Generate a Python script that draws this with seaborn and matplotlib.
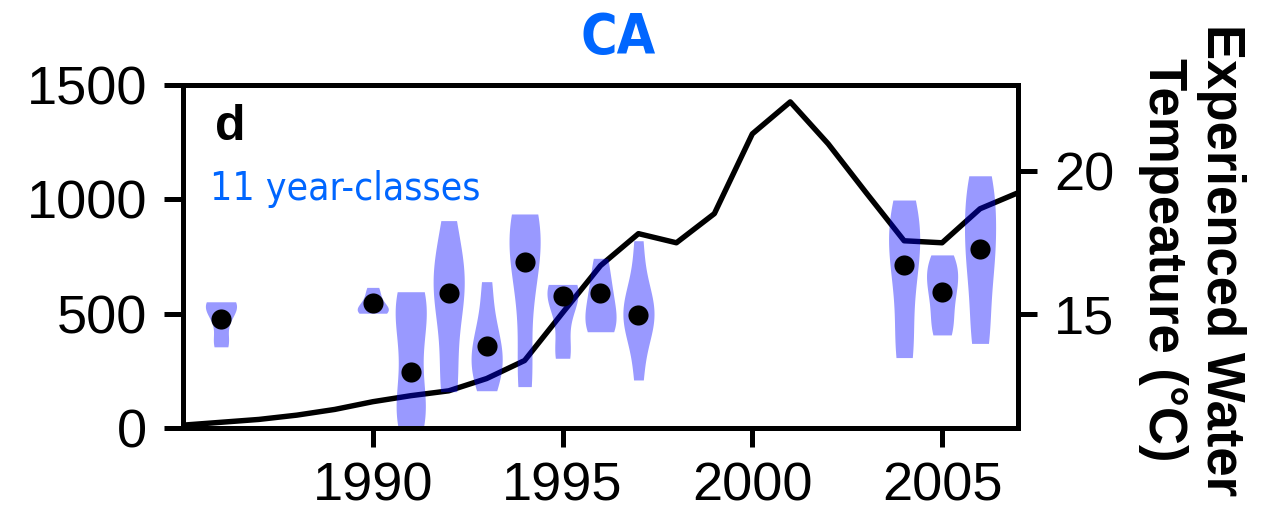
import numpy as np
import pandas as pd
import matplotlib
matplotlib.use("Agg")
import matplotlib.pyplot as plt
import seaborn as sns

sns.set_style("white")
plt.rcParams["font.family"] = ["Liberation Sans", "DejaVu Sans"]
plt.rcParams["text.color"] = "black"
plt.rcParams["xtick.color"] = "black"
plt.rcParams["ytick.color"] = "black"

# Experienced water temperature (right axis), one value per year
temp_years = list(range(1985, 2008))
temp_values = [11.10, 11.20, 11.30, 11.45, 11.65, 11.92, 12.13, 12.30, 12.73, 13.36,
               15.03, 16.68, 17.80, 17.48, 18.50, 21.29, 22.41, 20.94, 19.23, 17.55,
               17.48, 18.67, 19.23]

# Per-year-class observations (left axis)
yc_1986 = [355, 385, 470, 520, 540, 548, 552]
yc_1990 = [502, 508, 520, 540, 575, 615]
yc_1991 = [0, 25, 70, 140, 260, 380, 470, 540, 580, 596]
yc_1992 = [159, 200, 430, 560, 620, 680, 740, 907]
yc_1993 = [163, 230, 285, 330, 385, 480, 640]
yc_1994 = [181, 260, 540, 700, 780, 850, 900, 936]
yc_1995 = [305, 345, 490, 565, 600, 620, 628]
yc_1996 = [421, 440, 500, 565, 640, 742]
yc_1997 = [210, 410, 470, 500, 530, 620, 819]
yc_2004 = [308, 360, 570, 700, 780, 850, 930, 997]
yc_2005 = [407, 440, 520, 590, 630, 680, 720, 757]
yc_2006 = [370, 420, 610, 720, 790, 860, 980, 1050, 1103]

class_years = [1986, 1990, 1991, 1992, 1993, 1994, 1995, 1996, 1997, 2004, 2005, 2006]
class_obs = [yc_1986, yc_1990, yc_1991, yc_1992, yc_1993, yc_1994, yc_1995,
             yc_1996, yc_1997, yc_2004, yc_2005, yc_2006]
class_centers = [475, 548, 246, 592, 360, 725, 577, 592, 494, 713, 595, 781]

df = pd.DataFrame({
    "year": np.repeat(class_years, [len(o) for o in class_obs]),
    "value": np.concatenate(class_obs),
})

fig = plt.figure(figsize=(12.70, 5.19), dpi=100)
ax = fig.add_axes([183 / 1270, 1 - 428 / 519, (1018 - 183) / 1270, (428 - 85) / 519])
ax2 = ax.twinx()

# temperature line on the twin axis, drawn underneath the violins
sns.lineplot(x=temp_years, y=temp_values, ax=ax2, color="black", lw=3.9)
ax2.set_ylim(11, 23)
ax2.set_yticks([15, 20])
ax2.set_ylabel("")

sns.violinplot(data=df, x="year", y="value", native_scale=True, cut=0,
               inner=None, color="blue", saturation=1, linewidth=0,
               width=0.82, bw_adjust=0.9, density_norm="width", ax=ax)
for c in ax.collections:
    c.set_alpha(0.4)
ax.scatter(class_years, class_centers, s=210, color="black", zorder=5, linewidths=0)

ax.set_zorder(ax2.get_zorder() + 1)
ax.patch.set_visible(False)

ax.set_xlim(1985, 2007)
ax.set_ylim(0, 1500)
ax.set_xticks([1990, 1995, 2000, 2005])
ax.set_yticks([0, 500, 1000, 1500])
ax.set_xlabel("")
ax.set_ylabel("")

for a in (ax, ax2):
    for s in a.spines.values():
        s.set_linewidth(3.6)
        s.set_color("black")
ax.tick_params(axis="both", labelsize=39, length=14, width=3.6, color="black",
               labelcolor="black", left=True, bottom=True, direction="out")
ax.tick_params(axis="y", pad=12)
ax.tick_params(axis="x", pad=10)
ax2.tick_params(axis="y", labelsize=39, length=14, width=3.6, right=True, pad=12,
                color="black", labelcolor="black", direction="out")

# panel letter and annotation
ax.text(215 / 1270, 1 - 140 / 519, "d", transform=fig.transFigure, color="black",
        fontsize=36, fontweight="bold", ha="left", va="baseline")
ax.text(210 / 1270, 1 - 200 / 519, "11 year-classes", transform=fig.transFigure,
        fontsize=28, color="#0066FF", ha="left", va="baseline",
        family="DejaVu Sans", fontstretch="condensed")

fig.text(618 / 1270, 1 - 53 / 519, "CA", fontsize=40, fontweight="bold",
         color="#0066FF", ha="center", va="baseline",
         family="DejaVu Sans", fontstretch="condensed")

fig.text(1192 / 1270, 1 - 260 / 519, "Experienced Water\nTempeature (°C)",
         rotation=270, fontsize=38, fontweight="bold", ha="center", va="center",
         multialignment="center", linespacing=1.2, color="black")

fig.savefig("out.png", dpi=100)
